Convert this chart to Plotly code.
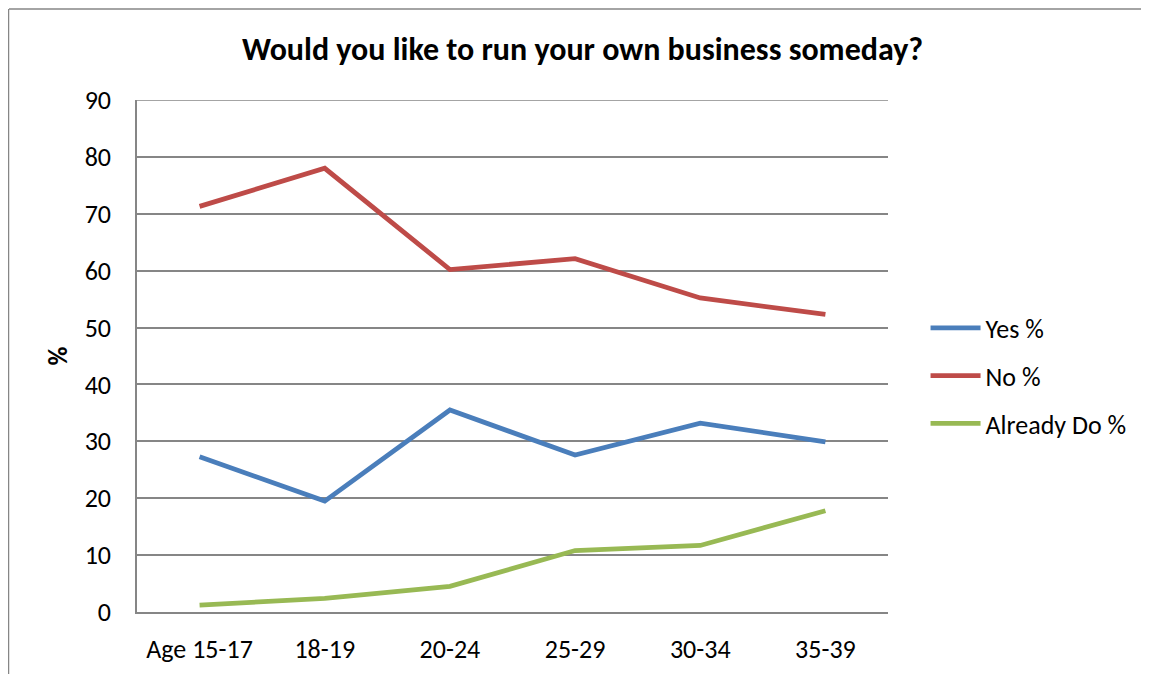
import plotly.graph_objects as go

categories = ["Age 15-17", "18-19", "20-24", "25-29", "30-34", "35-39"]
yes_pct = [27.3, 19.5, 35.5, 27.6, 33.2, 29.9]
no_pct = [71.3, 78.0, 60.2, 62.1, 55.2, 52.3]
already_pct = [1.2, 2.4, 4.5, 10.8, 11.7, 17.8]
y_ticks = [0, 10, 20, 30, 40, 50, 60, 70, 80, 90]

FONT = "Carlito, Calibri, sans-serif"

fig = go.Figure()
series = [("Yes %", yes_pct, "#4A7EBB"), ("No %", no_pct, "#BE4B48"), ("Already Do %", already_pct, "#98B954")]
for i, (name, vals, col) in enumerate(series):
    fig.add_trace(go.Scatter(x=categories, y=vals, name=name, mode="lines",
                             legendgroup=f"g{i}",
                             line=dict(color=col, width=4.8)))

fig.update_layout(
    width=1149, height=674,
    margin=dict(l=129, r=269, t=92, b=70),
    plot_bgcolor="white", paper_bgcolor="white",
    font=dict(family=FONT, size=25, color="black"),
    title=dict(text="<b>Would you like to run your own business someday?</b>",
               x=0.5, xanchor="center", xref="container", y=0.94, yanchor="middle",
               font=dict(family=FONT, size=32, color="black")),
    legend=dict(x=1.05, y=0.461, xanchor="left", yanchor="middle",
                font=dict(family=FONT, size=26), traceorder="grouped",
                tracegroupgap=11, itemwidth=50),
    showlegend=True,
)
fig.update_xaxes(type="category", range=[-0.5, 5.5], showgrid=False,
                 showline=True, linecolor="#868686", linewidth=1.5,
                 ticks="", ticklabelstandoff=13,
                 tickfont=dict(family=FONT, size=26))
fig.update_yaxes(range=[0, 90], tickvals=y_ticks, showgrid=True,
                 gridcolor="#868686", gridwidth=1.5,
                 showline=True, linecolor="#868686", linewidth=1.5,
                 zeroline=False, ticks="", ticklabelstandoff=19,
                 tickfont=dict(family=FONT, size=26),
                 title=dict(text="<b>%</b>", font=dict(family=FONT, size=26), standoff=10))
# top gridline (at the axis maximum)
fig.add_shape(type="line", xref="paper", yref="y", x0=0, x1=1, y0=y_ticks[-1], y1=y_ticks[-1],
              line=dict(color="#868686", width=1.5), layer="below")
# outer chart frame: top and left edges
fig.add_shape(type="line", xref="paper", yref="paper",
              x0=-128/751, x1=1.0 + 269/751, y0=(512 + 91) / 512, y1=(512 + 91) / 512,
              line=dict(color="#868686", width=1.5))
fig.add_shape(type="line", xref="paper", yref="paper",
              x0=-128.5/751, x1=-128.5/751, y0=-70/512, y1=(512 + 91) / 512,
              line=dict(color="#868686", width=1.5))
fig.write_html("out.html")
